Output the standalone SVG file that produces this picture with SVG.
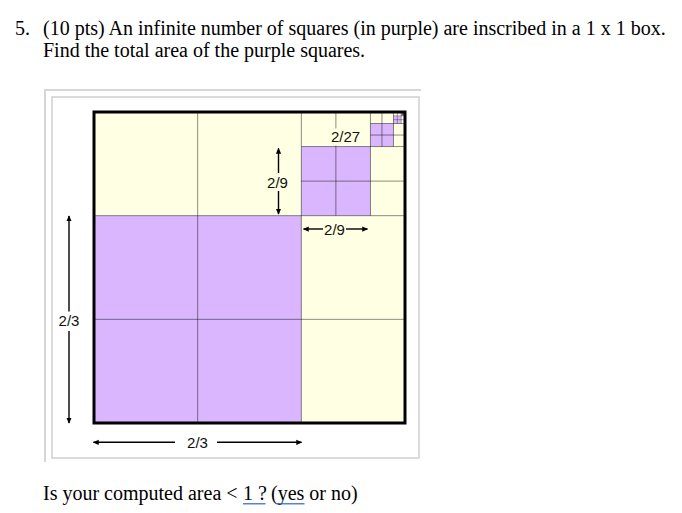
<svg xmlns="http://www.w3.org/2000/svg" width="682" height="513" viewBox="0 0 682 513">
<style>
.q{font-family:"Liberation Serif","Times New Roman",serif;font-size:20px;fill:#000}
.lbl{font-family:"Liberation Sans",Arial,sans-serif;font-size:15px;fill:#111}
.p{fill:#d9b6fe}
.g{stroke:#000;stroke-opacity:0.45;stroke-width:1;fill:none}
.g2{stroke:#000;stroke-opacity:0.45;stroke-width:0.7;fill:none}
.ar{stroke:#000;stroke-width:1.4;fill:none}
.ul{stroke:#2a62d4;stroke-width:1.2}
</style>
<defs>
<marker id="ah" viewBox="0 0 8 8" refX="7" refY="4" markerWidth="6" markerHeight="6" markerUnits="userSpaceOnUse" orient="auto-start-reverse">
<path d="M0,0.5 L8,4 L0,7.5 Z" fill="#000"/>
</marker>
</defs>
<rect width="682" height="513" fill="#fff"/>
<g id="question">
<text class="q" x="15" y="35">5.</text>
<text class="q" x="43" y="35">(10 pts) An infinite number of squares (in purple) are inscribed in a 1 x 1 box.</text>
<text class="q" x="43" y="57">Find the total area of the purple squares.</text>
</g>
<g id="frame">
<path d="M45,462 V90 H421" fill="none" stroke="#d6d6d6" stroke-width="2"/>
<rect x="52" y="97" width="367" height="361" fill="#fff" stroke="#cfcfcf" stroke-width="1.5"/>
</g>
<g id="box">
<rect x="94" y="112" width="311" height="311" fill="#ffffe3"/>
</g>
<g id="square-2-3"><rect class="p" x="94" y="215.667" width="207.333" height="207.333"/></g>
<g id="square-2-9"><rect class="p" x="301.333" y="146.556" width="69.111" height="69.111"/></g>
<g id="square-2-27"><rect class="p" x="370.444" y="123.519" width="23.037" height="23.037"/></g>
<g id="square-2-81"><rect class="p" x="393.481" y="115.840" width="7.679" height="7.679"/></g>
<g id="square-2-243"><rect class="p" x="401.160" y="113.280" width="2.560" height="2.560"/></g>
<g id="grid">
<path class="g" d="M197.667,112 V423 M301.333,112 V423 M94,215.667 H405 M94,319.333 H405"/>
<path class="g" d="M335.889,112 V215.667 M370.444,112 V215.667 M301.333,146.556 H405 M301.333,181.111 H405"/>
<path class="g" d="M381.963,112 V146.556 M393.481,112 V146.556 M370.444,123.519 H405 M370.444,135.037 H405"/>
<path class="g2" d="M397.321,112 V123.519 M401.160,112 V123.519 M393.481,115.840 H405 M393.481,119.679 H405"/>
<path class="g2" d="M402.440,112 V115.840 M403.720,112 V115.840 M401.160,113.280 H405 M401.160,114.560 H405"/>
</g>
<g id="border">
<rect x="94" y="112" width="311" height="311" fill="none" stroke="#000" stroke-width="3"/>
</g>
<g id="connectors">
<line class="ar" x1="278.5" y1="173" x2="278.5" y2="148.5" marker-end="url(#ah)"/>
<line class="ar" x1="278.5" y1="191" x2="278.5" y2="214" marker-end="url(#ah)"/>
<line class="ar" x1="323" y1="229" x2="303.5" y2="229" marker-end="url(#ah)"/>
<line class="ar" x1="346" y1="229" x2="367.5" y2="229" marker-end="url(#ah)"/>
<line class="ar" x1="69" y1="311.5" x2="69" y2="216" marker-end="url(#ah)"/>
<line class="ar" x1="69" y1="331" x2="69" y2="423" marker-end="url(#ah)"/>
<line class="ar" x1="175" y1="442.3" x2="93.5" y2="442.3" marker-end="url(#ah)"/>
<line class="ar" x1="217" y1="442.3" x2="301.5" y2="442.3" marker-end="url(#ah)"/>
</g>
<g id="label-2-27">
<rect x="329" y="128.5" width="33" height="17" fill="#ffffe3"/>
<text class="lbl" x="345.5" y="142" text-anchor="middle">2/27</text>
</g>
<g id="label-2-9-v"><text class="lbl" x="277.5" y="188" text-anchor="middle">2/9</text></g>
<g id="label-2-9-h"><text class="lbl" x="334.5" y="234.5" text-anchor="middle">2/9</text></g>
<g id="label-2-3-v"><text class="lbl" x="69" y="326" text-anchor="middle">2/3</text></g>
<g id="label-2-3-h"><text class="lbl" x="197.5" y="447.5" text-anchor="middle">2/3</text></g>
<g id="prompt">
<text class="q" y="500"><tspan x="43">Is your computed area &lt;</tspan><tspan x="243">1 ?</tspan><tspan x="271">(yes or no)</tspan></text>
<line class="ul" x1="243" y1="503.8" x2="265.5" y2="503.8"/>
<line class="ul" x1="276.5" y1="503.8" x2="304.5" y2="503.8"/>
</g>
</svg>
